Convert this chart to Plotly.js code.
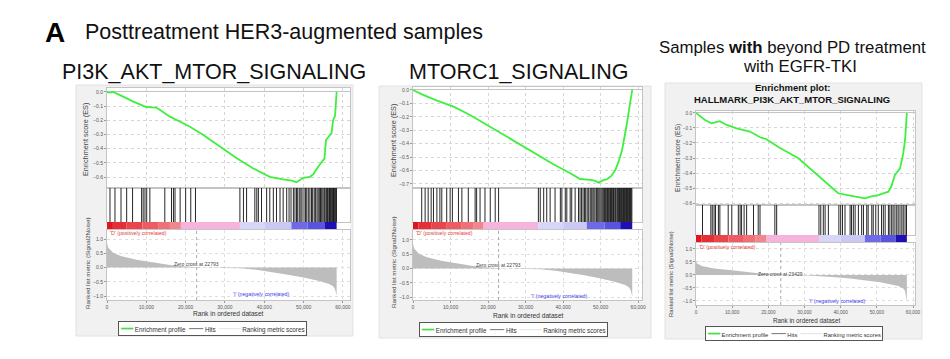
<!DOCTYPE html>
<html><head><meta charset="utf-8">
<script src="https://cdn.plot.ly/plotly-3.0.1.min.js"></script>
<style>html,body{margin:0;padding:0;background:#fff;}#chart{width:950px;height:359px;}</style>
</head><body><div id="chart"></div>
<script>
// ================= DATA =================
const rankTicks = [0, 10000, 20000, 30000, 40000, 50000, 60000];
const metricTicks = [-1, -0.5, 0, 0.5, 1];
const bandColors = ['#e0161e','#e42f35','#e9464c','#ec5c62','#ef7076','#f1868e','#f6b4dc','#d8d6f8','#cac8f5','#6d69e7','#5853e1','#1e0eb6'];

// Panel 1: PI3K_AKT_MTOR_SIGNALING
const p1EsRank  = [0, 800, 1600, 2500, 4100, 6700, 9200, 10000, 11400, 12500, 13500, 16000, 18600, 21100, 24500, 28700, 33000, 37200, 41400, 44800, 47000, 48200, 49200, 49900, 51600, 52500, 53700, 54600, 55300, 55700, 56500, 57100, 57500, 58000, 58400];
const p1EsScore = [0, -0.005, 0, -0.01, -0.033, -0.068, -0.10, -0.106, -0.108, -0.11, -0.127, -0.174, -0.21, -0.245, -0.303, -0.386, -0.468, -0.539, -0.598, -0.616, -0.625, -0.637, -0.62, -0.605, -0.598, -0.579, -0.527, -0.492, -0.47, -0.339, -0.31, -0.29, -0.2, -0.17, 0.0];
const p1Hits = [760, 2030, 3560, 5000, 6500, 8800, 9200, 9660, 10100, 10900, 14700, 16400, 16900, 17300, 18600, 20000, 21300, 22500, 33800, 34700, 35500, 37600, 38100, 38500, 39300, 40600, 41400, 42300, 43100, 44000, 44800, 45700, 46300, 46800, 47400, 47800, 48200, 48500, 48900, 49300, 49600, 50100, 50500, 50800, 51200, 51600, 52000, 52300, 52700, 53000, 53400, 53700, 54000, 54300, 54600, 54900, 55200, 55400, 55700, 55900, 56100, 56400, 56600, 56800, 57000, 57200, 57400, 57600, 57800, 58000, 58200, 58350];
const p1BandEdges = [0, 1500, 5000, 9000, 13000, 16000, 18800, 33800, 40000, 46900, 51000, 55300, 58400];
const p1ZeroCross = 22793;

// Panel 2: MTORC1_SIGNALING (same ranked list as panel 1)
const p2EsRank  = [0, 2700, 6400, 10800, 15200, 19700, 24100, 28600, 33000, 37400, 41900, 44500, 47200, 48400, 49400, 50700, 51700, 52800, 53900, 54800, 55700, 56400, 57000, 57700, 58400];
const p2EsScore = [0, -0.037, -0.079, -0.124, -0.186, -0.261, -0.335, -0.41, -0.484, -0.553, -0.62, -0.663, -0.67, -0.675, -0.69, -0.672, -0.665, -0.64, -0.596, -0.53, -0.447, -0.35, -0.248, -0.12, 0.0];
const p2Hits = [2320, 3230, 4040, 4840, 5450, 6360, 7160, 7670, 8980, 9890, 10490, 12110, 13020, 14730, 16550, 16950, 17860, 19170, 20580, 21900, 22800, 33400, 33900, 34810, 35620, 36530, 37840, 39250, 39650, 40560, 40970, 41870, 42280, 43190, 44090, 44500, 44900, 45300, 45700, 46000, 46400, 46800, 47200, 47500, 47900, 48200, 48500, 48900, 49200, 49500, 49800, 50100, 50400, 50700, 51000, 51300, 51600, 51800, 52100, 52400, 52600, 52900, 53100, 53400, 53600, 53900, 54100, 54400, 54600, 54800, 55000, 55300, 55500, 55700, 55900, 56100, 56300, 56500, 56700, 56900, 57100, 57300, 57500, 57700, 57900, 58100, 58300];
const p2BandEdges = [0, 1500, 5000, 9000, 13000, 16000, 18800, 33400, 40000, 46300, 51000, 55200, 58400];
const p2ZeroCross = 22793;

// Shared ranked-list metric for panels 1 and 2
const p12MetricRank = [0, 300, 1500, 3500, 7500, 11500, 16000, 19000, 22793, 26000, 30000, 34000, 38000, 42000, 46000, 50000, 54000, 56500, 57500, 58000, 58300, 58400];
const p12Metric     = [0.86, 0.7, 0.53, 0.4, 0.27, 0.18, 0.09, 0.04, 0, -0.008, -0.015, -0.03, -0.08, -0.16, -0.25, -0.35, -0.47, -0.58, -0.66, -0.76, -0.88, -0.98];

// Panel 3: HALLMARK_PI3K_AKT_MTOR_SIGNALING (beyond PD)
const p3EsRank  = [0, 2500, 4300, 5500, 6600, 8500, 11200, 14900, 17700, 19500, 23000, 28300, 33800, 39300, 43000, 46700, 48500, 50400, 53200, 54000, 55000, 56400, 57300, 57800, 58300];
const p3EsScore = [0, -0.047, -0.069, -0.06, -0.055, -0.08, -0.102, -0.124, -0.162, -0.175, -0.23, -0.302, -0.42, -0.535, -0.553, -0.569, -0.555, -0.547, -0.524, -0.49, -0.413, -0.369, -0.269, -0.18, 0.0];
const p3Hits = [1800, 4100, 4500, 5000, 5400, 6200, 6600, 8900, 9900, 11700, 12200, 12600, 13300, 14000, 15900, 17200, 17700, 21800, 22300, 34000, 34500, 35200, 35700, 36600, 39500, 40000, 40500, 41200, 42600, 43000, 43500, 44000, 44900, 45800, 46300, 47200, 47600, 48600, 49000, 49700, 50400, 51300, 51800, 52300, 53200, 53600, 54100, 54500, 55000, 55500, 55900, 56400, 56900, 57300, 57800, 58200];
const p3BandEdges = [0, 1500, 5000, 9000, 13000, 16500, 19500, 34000, 40000, 46700, 51000, 55200, 58300];
const p3MetricRank = [0, 300, 1600, 5000, 9900, 14000, 17200, 20500, 23429, 27000, 31000, 34000, 37500, 42000, 46700, 51000, 55900, 57300, 57800, 58100, 58300];
const p3Metric     = [0.52, 0.44, 0.35, 0.25, 0.18, 0.11, 0.065, 0.03, 0, -0.01, -0.02, -0.04, -0.08, -0.13, -0.2, -0.28, -0.42, -0.52, -0.62, -0.8, -1.02];
const p3ZeroCross = 23429;

const panels = [
  {es:[p1EsRank,p1EsScore], hits:p1Hits, bands:p1BandEdges, met:[p12MetricRank,p12Metric], zc:p1ZeroCross},
  {es:[p2EsRank,p2EsScore], hits:p2Hits, bands:p2BandEdges, met:[p12MetricRank,p12Metric], zc:p2ZeroCross},
  {es:[p3EsRank,p3EsScore], hits:p3Hits, bands:p3BandEdges, met:[p3MetricRank,p3Metric], zc:p3ZeroCross}
];

// ================= LAYOUT GEOMETRY (pixels) =================
const W = 950, H = 359;
const px = x => x / W, py = y => 1 - y / H;
const geo = [
  {x0:107, x1:350, es:[88,188], hits:[188,222], bar:[222,230], met:[230,300], esR:[-0.677,0.028], metR:[-1.14,1.316], xR:[0,61800], frame:[76,85,353,336], fs:5,
   esT:[85,140], metT:[87,264], xT:[228,313], leg:[212,328.5], dLab:[108,233], iLab:[261,294], zcY:264},
  {x0:413, x1:642, es:[87,188], hits:[188,222], bar:[222,230], met:[230,300], esR:[-0.73,0.022], metR:[-1.105,1.35], xR:[0,61000], frame:[379,86,651,338], fs:5,
   esT:[393,141], metT:[393,263], xT:[528,315], leg:[513.5,329], dLab:[414,233], iLab:[559,296], zcY:265},
  {x0:696, x1:915, es:[111,205], hits:[205,235], bar:[235,243], met:[243,305], esR:[-0.613,0.013], metR:[-1.154,1.23], xR:[0,60550], frame:[665,83,922,339], fs:4.7,
   esT:[678,158], metT:[671,274], xT:[806,320], leg:[794,333.5], dLab:[697,247], iLab:[837,301], zcY:274}
];

const FONT = '"Liberation Sans", Arial, sans-serif';
const traces = [];
const layout = {
  width: W, height: H, margin: {l:0, r:0, t:0, b:0},
  paper_bgcolor: '#ffffff', plot_bgcolor: 'rgba(0,0,0,0)',
  showlegend: false, font: {family: FONT, color: '#333'},
  shapes: [], annotations: []
};
const axName = (p, n) => p + (n === 1 ? '' : n);
const note = (o) => Object.assign({xref:'paper', yref:'paper', showarrow:false, xanchor:'center', yanchor:'middle'}, o);

panels.forEach((d, i) => {
  const g = geo[i];
  const n = k => i * 4 + k + 1;
  const dom = yy => [py(yy[1]), py(yy[0])];
  const xdom = [px(g.x0), px(g.x1)];
  const tickfont = {size: g.fs, color: '#555', family: FONT};
  const box = {showline: true, mirror: true, linecolor: '#c4c4c4', linewidth: 1, zeroline: false, fixedrange: true};

  layout.shapes.push({type:'rect', xref:'paper', yref:'paper', layer:'below',
    x0:px(g.frame[0]), x1:px(g.frame[2]), y0:py(g.frame[3]), y1:py(g.frame[1]),
    fillcolor:'#f1f1f1', line:{color:'#e2e2e2', width:1}});
  layout.shapes.push({type:'rect', xref:'paper', yref:'paper', layer:'below',
    x0:px(g.x0), x1:px(g.x1), y0:py(g.met[1]), y1:py(g.es[0]),
    fillcolor:'#ffffff', line:{width:0}});

  // ES subplot
  layout[axName('xaxis', n(0))] = Object.assign({domain:xdom, range:g.xR, anchor:axName('y', n(0)),
    tickvals:rankTicks, showticklabels:false, ticks:'', showgrid:true, gridcolor:'#d6d6d6', griddash:'dot'}, box);
  layout[axName('yaxis', n(0))] = Object.assign({}, box, {domain:dom(g.es), range:g.esR, anchor:axName('x', n(0)),
    dtick:0.1, tick0:0, tickformat:'.1f', tickfont, ticks:'outside', ticklen:2, tickcolor:'#999',
    showgrid:true, gridcolor:'#d6d6d6', griddash:'dot', zeroline:true, zerolinecolor:'#c4c4c4', zerolinewidth:1});
  traces.push({type:'scatter', mode:'lines', x:d.es[0], y:d.es[1], xaxis:axName('x', n(0)), yaxis:axName('y', n(0)),
    line:{color:'#3ef03e', width:1.8}, hoverinfo:'skip'});

  // Hits subplot
  layout[axName('xaxis', n(1))] = Object.assign({domain:xdom, range:g.xR, anchor:axName('y', n(1)),
    showticklabels:false, ticks:'', showgrid:false}, box);
  layout[axName('yaxis', n(1))] = Object.assign({domain:dom(g.hits), range:[0,1], anchor:axName('x', n(1)),
    showticklabels:false, ticks:'', showgrid:false}, box);
  const hx = [], hy = [];
  d.hits.forEach(h => { hx.push(h, h, null); hy.push(0, 1, null); });
  traces.push({type:'scatter', mode:'lines', x:hx, y:hy, xaxis:axName('x', n(1)), yaxis:axName('y', n(1)),
    line:{color:'rgba(0,0,0,0.85)', width:1}, hoverinfo:'skip'});

  // Colour band subplot
  layout[axName('xaxis', n(2))] = {domain:xdom, range:g.xR, anchor:axName('y', n(2)), visible:false, fixedrange:true};
  layout[axName('yaxis', n(2))] = {domain:dom(g.bar), range:[0,1], anchor:axName('x', n(2)), visible:false, fixedrange:true};
  const bx = [], bw = [], by = [];
  for (let k = 0; k < d.bands.length - 1; k++) {
    bx.push((d.bands[k] + d.bands[k+1]) / 2); bw.push(d.bands[k+1] - d.bands[k]); by.push(1);
  }
  traces.push({type:'bar', x:bx, y:by, width:bw, base:0, xaxis:axName('x', n(2)), yaxis:axName('y', n(2)),
    marker:{color:bandColors.slice(0, bx.length), line:{width:0}}, hoverinfo:'skip'});

  // Metric subplot
  layout[axName('xaxis', n(3))] = Object.assign({domain:xdom, range:g.xR, anchor:axName('y', n(3)),
    tickvals:rankTicks, tickformat:',', tickfont, ticks:'outside', ticklen:2, tickcolor:'#999',
    showgrid:true, gridcolor:'#dedede', griddash:'dot'}, box);
  layout[axName('yaxis', n(3))] = Object.assign({domain:dom(g.met), range:g.metR, anchor:axName('x', n(3)),
    tickvals:metricTicks, tickformat:'.1f', tickfont, ticks:'outside', ticklen:2, tickcolor:'#999',
    showgrid:true, gridcolor:'#dedede', griddash:'dot'}, box);
  traces.push({type:'scatter', mode:'lines', x:d.met[0], y:d.met[1], xaxis:axName('x', n(3)), yaxis:axName('y', n(3)),
    fill:'tozeroy', fillcolor:'#bdbdbd', line:{color:'#bdbdbd', width:0}, hoverinfo:'skip'});
  traces.push({type:'scatter', mode:'lines', x:[d.zc, d.zc], y:g.metR, xaxis:axName('x', n(3)), yaxis:axName('y', n(3)),
    line:{color:'#aaaaaa', width:1, dash:'dot'}, hoverinfo:'skip'});

  const A = layout.annotations;
  A.push(note({x:px(g.esT[0]), y:py(g.esT[1]), text:'Enrichment score (ES)', textangle:-90,
    font:{size:i===2?6.8:7.3, color:'#444', family:FONT}}));
  A.push(note({x:px(g.metT[0]), y:py(g.metT[1]), text:'Ranked list metric (Signal2Noise)', textangle:-90,
    font:{size:i===2?5.8:6.2, color:'#444', family:FONT}}));
  A.push(note({x:px(g.xT[0]), y:py(g.xT[1]), text:'Rank in ordered dataset',
    font:{size:i===2?6.3:6.6, color:'#333', family:FONT}}));
  A.push(note({x:px(g.dLab[0]), y:py(g.dLab[1]), xanchor:'left', text:"'D' (positively correlated)",
    font:{size:5.2, color:'#e23a3a', family:FONT}}));
  A.push(note({x:px(g.iLab[0]), y:py(g.iLab[1]), text:"'I' (negatively correlated)",
    font:{size:5.2, color:'#3b3bea', family:FONT}}));
  A.push(note({xref:axName('x', n(3)), x:d.zc, y:py(g.zcY), text:'Zero cross at ' + d.zc,
    font:{size:5, color:'#444', family:FONT}}));
  A.push(note({x:px(g.leg[0]), y:py(g.leg[1]),
    text:'<span style="color:#3ee03e;font-size:10px">━━</span> Enrichment profile  <span style="color:#444;font-size:10px">──</span> Hits  <span style="color:#dddddd;font-size:10px">───</span> Ranking metric scores',
    bgcolor:'#ffffff', bordercolor:'#555', borderwidth:1, borderpad:1,
    font:{size:i===2?5.8:6.3, color:'#333', family:FONT}}));
});

const A = layout.annotations;
A.push(note({x:px(55), y:py(33), text:'<b>A</b>', font:{size:28, color:'#000', family:FONT}}));
A.push(note({x:px(83), y:py(32), xanchor:'left', text:'Posttreatment HER3-augmented samples', font:{size:21.5, color:'#111', family:FONT}}));
A.push(note({x:px(213.5), y:py(72), text:'PI3K_AKT_MTOR_SIGNALING', font:{size:21.5, color:'#111', family:FONT}}));
A.push(note({x:px(518), y:py(72), text:'MTORC1_SIGNALING', font:{size:21.5, color:'#111', family:FONT}}));
A.push(note({x:px(792), y:py(47), text:'Samples <b>with</b> beyond PD treatment', font:{size:16.8, color:'#111', family:FONT}}));
A.push(note({x:px(800), y:py(66), text:'with EGFR-TKI', font:{size:16.8, color:'#111', family:FONT}}));
A.push(note({x:px(792), y:py(88), text:'<b>Enrichment plot:</b>', font:{size:9.5, color:'#111', family:FONT}}));
A.push(note({x:px(792), y:py(99.5), text:'<b>HALLMARK_PI3K_AKT_MTOR_SIGNALING</b>', font:{size:9.5, color:'#111', family:FONT}}));

Plotly.newPlot('chart', traces, layout, {staticPlot:true, displayModeBar:false});
</script></body></html>
